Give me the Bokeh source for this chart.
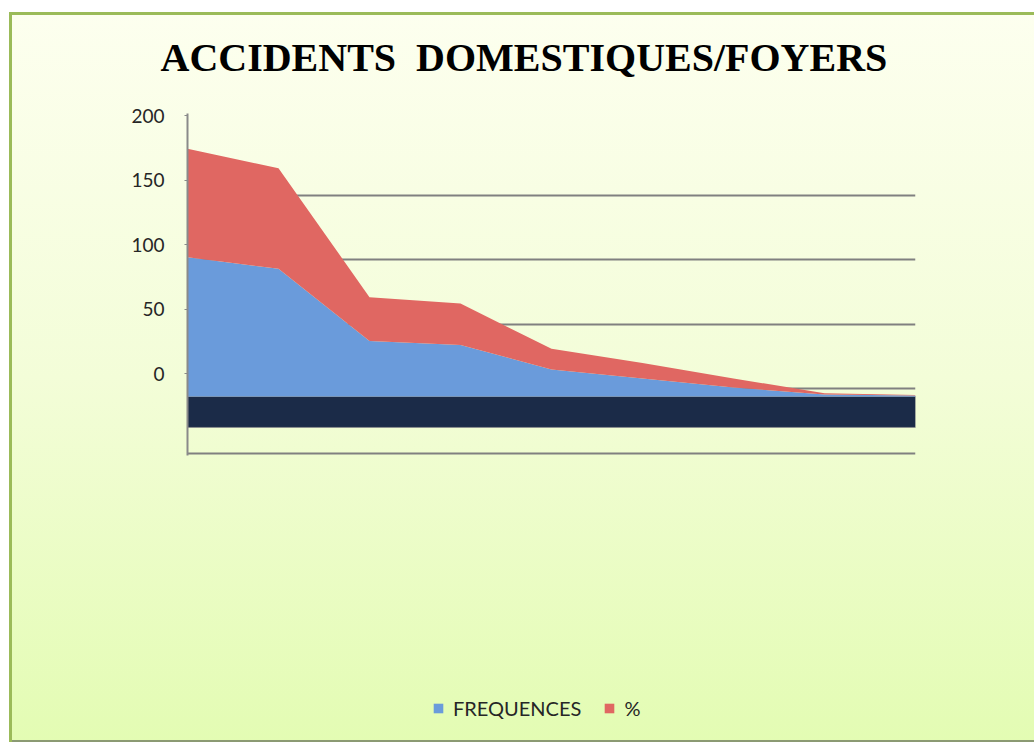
from bokeh.plotting import figure
from bokeh.models import (Range1d, FixedTicker, Grid, Legend, LegendItem,
                          ColumnDataSource, Title)
from bokeh.embed import file_html
from bokeh.resources import INLINE

# ---------------- data ----------------
categories = [1, 2, 3, 4, 5, 6, 7, 8, 9]
frequences = [108, 99, 43, 40, 21, 14, 7, 1.5, 0.8]
pourcentages = [84, 78, 34, 32, 16, 12, 7, 1, 0.4]
y_ticks = [0, 50, 100, 150, 200]
series_names = ["FREQUENCES", "%"]
title_text = "ACCIDENTS\u00a0 DOMESTIQUES/FOYERS"

# ---------------- geometry / style ----------------
FIG_W, FIG_H = 1025, 730          # figure placed at page (9, 12)
PAGE_TOP = 12
FRAME_TOP, FRAME_BOTTOM = 100, 730  # page y of plot frame
PX = 1.29                          # pixels per value unit
LABEL_ZERO, WALL_ZERO, FRONT_ZERO = 373, 388, 396   # page y of zero for each plane
FLOOR_DEPTH = 24


def rng(zero):
    return Range1d(-(FRAME_BOTTOM - zero) / PX, (zero - FRAME_TOP) / PX)


src = ColumnDataSource(dict(
    x=categories,
    base=[0] * len(categories),
    f=frequences,
    tot=[a + b for a, b in zip(frequences, pourcentages)],
))

p = figure(width=FIG_W, height=FIG_H, output_backend="svg", toolbar_location=None,
           x_axis_type=None, x_range=Range1d(categories[0], categories[-1]),
           y_range=rng(LABEL_ZERO),
           min_border_left=178, min_border_right=FIG_W - (915 - 9),
           min_border_top=FRAME_TOP - PAGE_TOP, min_border_bottom=PAGE_TOP + FIG_H - FRAME_BOTTOM)
p.extra_y_ranges = {"wall": rng(WALL_ZERO), "front": rng(FRONT_ZERO)}

p.border_fill_color = None
p.background_fill_color = None
p.outline_line_color = None
p.styles = {
    "margin-left": "9px",
    "margin-top": "12px",
    "background": "linear-gradient(180deg, #fdffef 0%, #f3fdd8 50%, #e3fcb3 100%)",
    "box-shadow": "inset 3px 3px 0 #9bbb59, inset 0 -2px 0 #8b9a73",
}

# title
p.title = Title(text=title_text, align="left", text_font="Liberation Serif",
                text_font_size="40px", text_font_style="bold", text_color="#000000",
                offset=-27, standoff=41)

# grids on back wall
p.xgrid.visible = False
p.ygrid.visible = False
wall_grid = Grid(dimension=1, ticker=FixedTicker(ticks=[-50, 0, 50, 100, 150]),
                 y_range_name="wall", grid_line_color="#808080", grid_line_width=2)
p.add_layout(wall_grid)

# y axis
ax = p.yaxis[0]
ax.ticker = FixedTicker(ticks=y_ticks)
ax.bounds = (-(455 - LABEL_ZERO) / PX, (LABEL_ZERO - 113) / PX)
ax.axis_line_color = "#8a8a8a"
ax.axis_line_width = 2
ax.major_tick_line_color = "#8a8a8a"
ax.major_tick_out = 3
ax.major_tick_in = 0
ax.minor_tick_line_color = None
ax.major_label_standoff = 20
ax.major_label_text_font = "Lato"
ax.major_label_text_font_size = "19px"
ax.major_label_text_color = "#262626"

# floor
p.quad(left=categories[0], right=categories[-1], bottom=-FLOOR_DEPTH, top=0,
       y_range_name="front", fill_color="#1b2b48", line_color="#8c9090", line_width=1)

# stacked areas
r_blue = p.varea(x="x", y1="base", y2="f", source=src, y_range_name="front",
                 fill_color="#6a9bdb")
r_red = p.varea(x="x", y1="f", y2="tot", source=src, y_range_name="front",
                fill_color="#e06762")

legend = Legend(items=[LegendItem(label=series_names[0], renderers=[r_blue]),
                       LegendItem(label=series_names[1], renderers=[r_red])],
                orientation="horizontal", location=(245, 10),
                background_fill_alpha=0, border_line_color=None,
                label_text_font="Lato", label_text_font_size="20px",
                label_text_color="#262626",
                glyph_width=12, glyph_height=12, label_standoff=9, spacing=22,
                padding=0, margin=0)
p.add_layout(legend)

open("out.html", "w").write(file_html(p, INLINE))
